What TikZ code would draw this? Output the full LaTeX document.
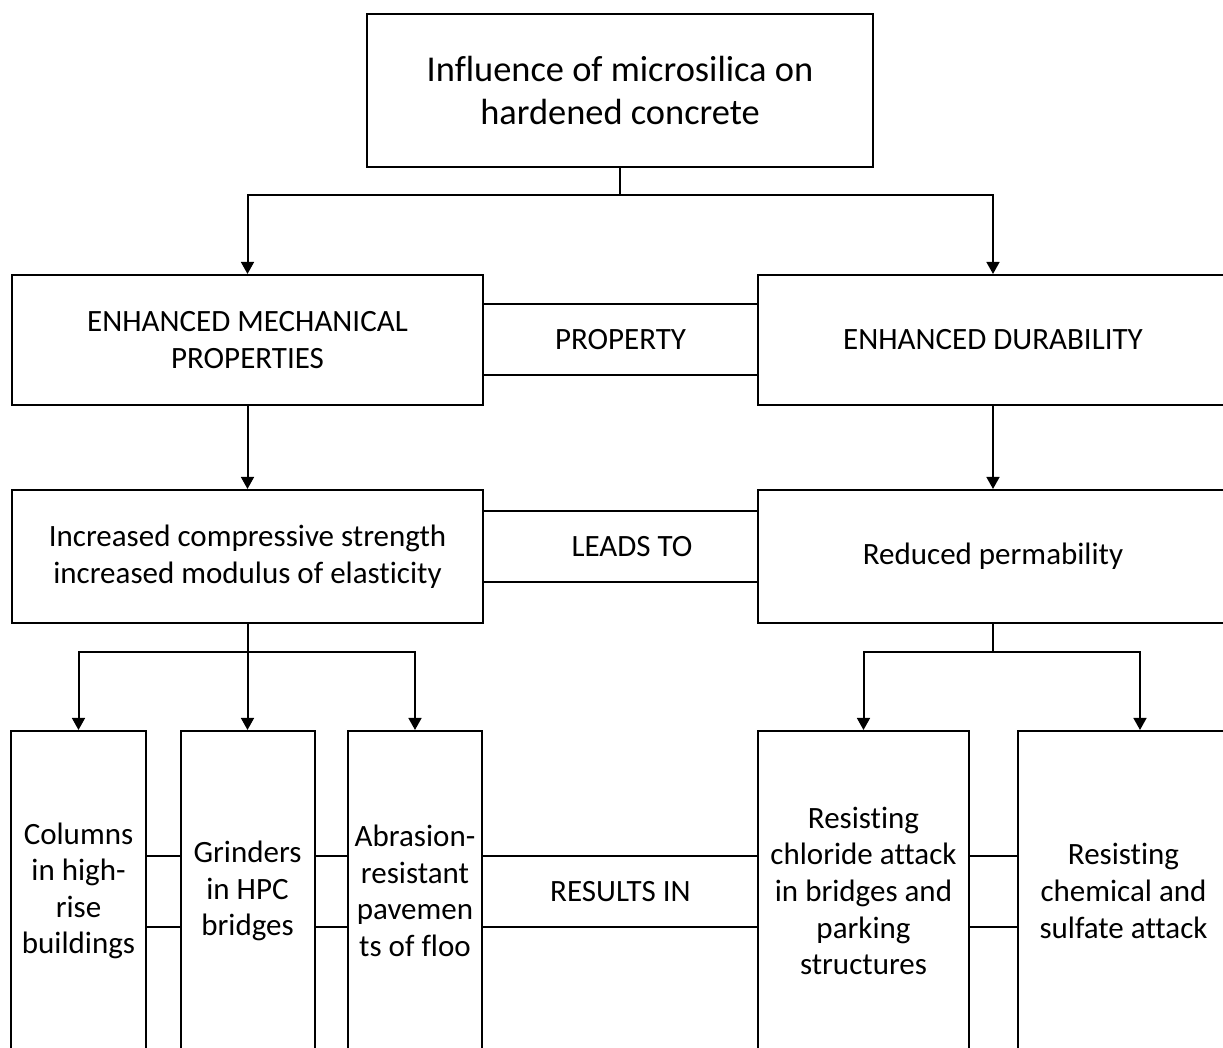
\documentclass[tikz,border=0pt]{standalone}
\usepackage{fontspec}
\setmainfont{Carlito}[Ligatures={NoCommon}]
\usetikzlibrary{arrows.meta}

\begin{document}
\begin{tikzpicture}[x=0.5pt, y=-0.5pt,
        box/.style = {draw, line width = 1pt, align = center, inner sep = 0pt,
                      font = \fontsize{15.5}{18.3}\selectfont},
        band/.style = {align = center, inner sep = 0pt, minimum height = 35.5pt,
                       font = \fontsize{15.5}{18.3}\selectfont},
        arrow/.style = {-{Triangle[length = 6pt, width = 6.4pt]}, line width = 1pt},
        link/.style = {line width = 1pt}]
            \useasboundingbox (0,0) rectangle (1223,1048);
            \clip (0,0) rectangle (1223,1048);

            \node[box, minimum width = 253pt, minimum height = 76.5pt,
                  font = \fontsize{18.2}{21}\selectfont] (top) at (620,90.5)
                {Influence of microsilica on\\hardened concrete};

            \node[box, minimum width = 235.5pt, minimum height = 65pt] (mech) at (247.5,340)
                {ENHANCED MECHANICAL\\PROPERTIES};
            \node[box, minimum width = 235pt, minimum height = 65pt] (dura) at (993,340)
                {ENHANCED DURABILITY};
            \node[band] (prop) at (620.5,339.5) {PROPERTY};

            \node[box, minimum width = 235.5pt, minimum height = 66.5pt] (comp) at (247.5,556.5)
                {Increased compressive strength\\increased modulus of elasticity};
            \node[box, minimum width = 235pt, minimum height = 66.5pt] (perm) at (993,556.5)
                {Reduced permability};
            \node[band] (leads) at (632,546.5) {LEADS TO};

            \node[box, minimum width = 67.5pt, minimum height = 160pt] (col) at (78.5,891)
                {Columns\\in high-\\rise\\buildings};
            \node[box, minimum width = 67pt, minimum height = 160pt] (grind) at (247.5,891)
                {Grinders\\in HPC\\bridges};
            \node[box, minimum width = 67pt, minimum height = 160pt] (abr) at (415,891)
                {Abrasion-\\resistant\\pavemen\\ts of floo};
            \node[box, minimum width = 105.5pt, minimum height = 160pt] (chlor) at (863.5,891)
                {Resisting\\chloride attack\\in bridges and\\parking\\structures};
            \node[box, minimum width = 105.5pt, minimum height = 160pt] (chem) at (1123.5,891)
                {Resisting\\chemical and\\sulfate attack};
            \node[band] (res) at (620.5,891.5) {RESULTS IN};

            \draw[arrow] (top.south) -- ++(0,27.5) -| (mech.north);
            \draw[arrow] (top.south) -- ++(0,27.5) -| (dura.north);
            \draw[arrow] (mech.south) -- (comp.north);
            \draw[arrow] (dura.south) -- (perm.north);

            \draw[arrow] (comp.south) -- ++(0,28) -| (col.north);
            \draw[arrow] (comp.south) -- (grind.north);
            \draw[arrow] (comp.south) -- ++(0,28) -| (abr.north);
            \draw[arrow] (perm.south) -- ++(0,28) -| (chlor.north);
            \draw[arrow] (perm.south) -- ++(0,28) -| ([xshift = 8.25pt]chem.north);

            \foreach \a in {north,south}{
                \draw[link] (mech.east |- prop.\a) -- (dura.west |- prop.\a);
                \draw[link] (comp.east |- leads.\a) -- (perm.west |- leads.\a);
                \draw[link] (col.east |- res.\a) -- (grind.west |- res.\a);
                \draw[link] (grind.east |- res.\a) -- (abr.west |- res.\a);
                \draw[link] (abr.east |- res.\a) -- (chlor.west |- res.\a);
                \draw[link] (chlor.east |- res.\a) -- (chem.west |- res.\a);
            }
        \end{tikzpicture}
\end{document}
